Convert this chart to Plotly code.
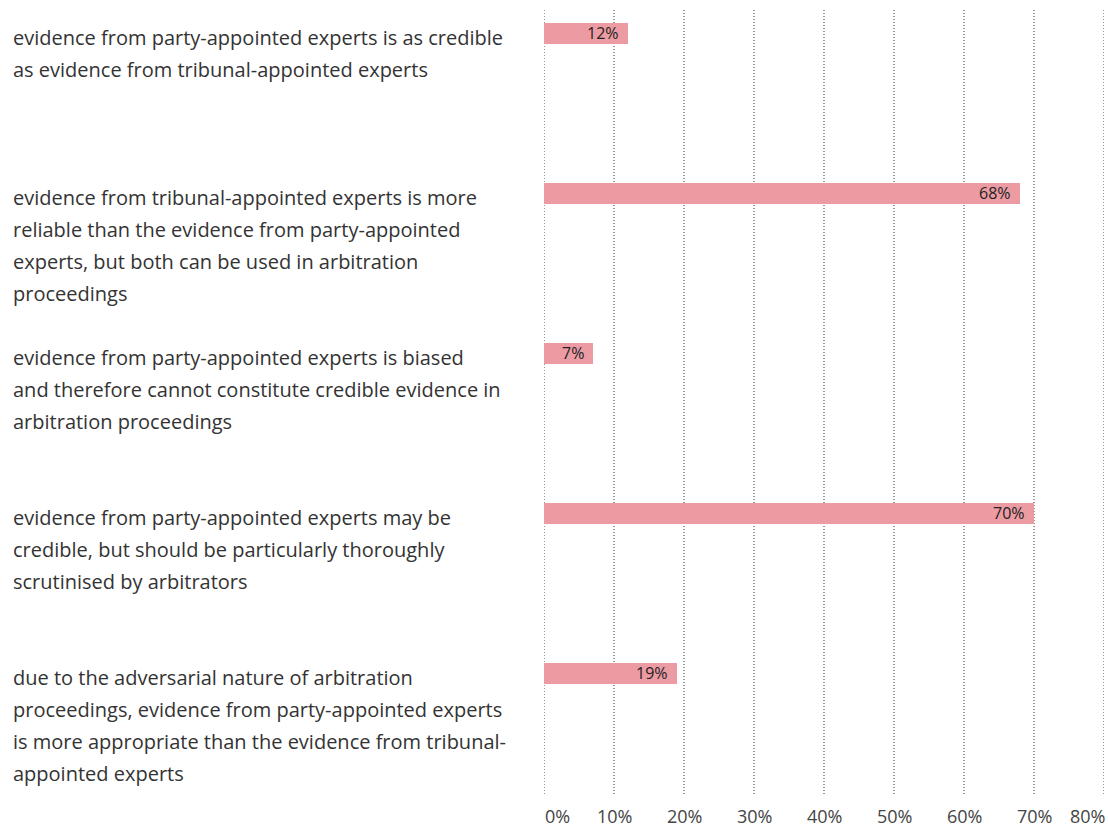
import plotly.graph_objects as go

# Survey statements (line breaks as laid out next to each bar)
categories = [
    "evidence from party-appointed experts is as credible\nas evidence from tribunal-appointed experts",
    "evidence from tribunal-appointed experts is more\nreliable than the evidence from party-appointed\nexperts, but both can be used in arbitration\nproceedings",
    "evidence from party-appointed experts is biased\nand therefore cannot constitute credible evidence in\narbitration proceedings",
    "evidence from party-appointed experts may be\ncredible, but should be particularly thoroughly\nscrutinised by arbitrators",
    "due to the adversarial nature of arbitration\nproceedings, evidence from party-appointed experts\nis more appropriate than the evidence from tribunal-\nappointed experts",
]
values = [12, 68, 7, 70, 19]
tick_values = [0, 10, 20, 30, 40, 50, 60, 70, 80]
tick_labels = ["0%", "10%", "20%", "30%", "40%", "50%", "60%", "70%", "80%"]

BAR_COLOR = "#EC9BA2"
TEXT_COLOR = "#333333"
FONT = "Open Sans"

W, H = 1108, 829
LEFT, RIGHT, TOP, BOTTOM = 544, 4, 10, 29
plot_h = H - TOP - BOTTOM
band = 160
first_center = 33 - TOP

positions = list(range(len(categories)))

fig = go.Figure()
fig.add_trace(go.Bar(
    x=values,
    y=positions,
    orientation="h",
    width=21 / band,
    marker=dict(color=BAR_COLOR, line=dict(width=0)),
    hoverinfo="skip",
))

# dotted vertical gridlines at every tick, including both ends
shapes = []
for tv in tick_values:
    shapes.append(dict(
        type="line", xref="x", yref="paper", x0=tv, x1=tv,
        y0=6 / plot_h, y1=1 + 2 / plot_h,
        line=dict(color="#333333", width=1, dash="1px,2px"), layer="below",
    ))

annotations = []
# value labels at the end of each bar
for p, v in zip(positions, values):
    annotations.append(dict(
        x=v, y=p, xref="x", yref="y", text=f"{v}%",
        showarrow=False, xanchor="right", yanchor="middle", xshift=-7, yshift=0,
        font=dict(family=FONT, size=16, color="#222222"),
    ))

# statement text, one annotation per line
for p, cat in zip(positions, categories):
    for k, line in enumerate(cat.split("\n")):
        annotations.append(dict(
            x=(11 - LEFT) / (W - LEFT - RIGHT), y=p, xref="paper", yref="y",
            text=line, showarrow=False, xanchor="left", yanchor="middle",
            yshift=-(4 + 32 * k),
            font=dict(family=FONT, size=20, color=TEXT_COLOR),
        ))

# x tick labels: edge labels kept inside the axis span
for i, (tv, tl) in enumerate(zip(tick_values, tick_labels)):
    anchor = "center"
    if i == 0:
        anchor = "left"
    elif i == len(tick_values) - 1:
        anchor = "right"
    annotations.append(dict(
        x=tv, y=0, xref="x", yref="paper", text=tl, showarrow=False,
        xanchor=anchor, yanchor="middle", yshift=-16, borderpad=0,
        xshift=2 if anchor == "right" else 0,
        font=dict(family=FONT, size=18, color="#444444"),
    ))

fig.update_layout(
    width=W, height=H,
    margin=dict(l=LEFT, r=RIGHT, t=TOP, b=BOTTOM, pad=0),
    paper_bgcolor="white", plot_bgcolor="rgba(0,0,0,0)",
    showlegend=False,
    bargap=0,
    xaxis=dict(
        range=[0, 80], tickvals=tick_values, showticklabels=False,
        showgrid=False, zeroline=False, showline=False, ticks="",
    ),
    yaxis=dict(
        range=[(plot_h - first_center) / band, -first_center / band],
        showticklabels=False, showgrid=False, zeroline=False, showline=False, ticks="",
    ),
    shapes=shapes,
    annotations=annotations,
)

fig.write_html("out.html")
